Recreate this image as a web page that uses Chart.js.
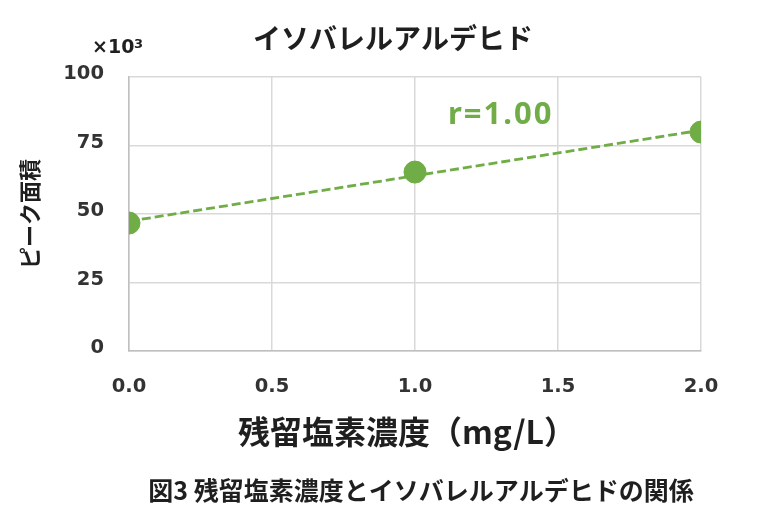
<!DOCTYPE html>
<html><head><meta charset="utf-8">
<script src="https://cdn.jsdelivr.net/npm/chart.js@4.4.1/dist/chart.umd.min.js"></script>
<style>html,body{margin:0;padding:0;background:#fff}#w{width:763px;height:521px;position:relative}</style>
</head><body><div id="w"><canvas id="c" width="763" height="521"></canvas></div>
<script>
const chlorine = [0.0, 1.0, 2.0];
const peakArea = [46.7, 65.3, 79.9];
const xTicks = [0, 0.5, 1.0, 1.5, 2.0];
const yTicks = [0, 25, 50, 75, 100];
const chartTitle = 'イソバレルアルデヒド';
const yTitle = 'ピーク面積';
const xTitle = '残留塩素濃度（mg/L）';
const caption = '図3 残留塩素濃度とイソバレルアルデヒドの関係';
const rLabel = 'r=1.00';
const unitLabel = '×10';
const unitExp = '3';

const n = chlorine.length;
const mx = chlorine.reduce((a,b)=>a+b,0)/n, my = peakArea.reduce((a,b)=>a+b,0)/n;
let sxy=0,sxx=0; for(let i=0;i<n;i++){sxy+=(chlorine[i]-mx)*(peakArea[i]-my);sxx+=(chlorine[i]-mx)**2;}
const slope=sxy/sxx, icpt=my-slope*mx;
const trend=[{x:0,y:icpt},{x:2,y:icpt+slope*2}];

const G='#70ad47';
const FONT='"Noto Sans CJK JP","Noto Sans",sans-serif';
const NUM='"DejaVu Sans",sans-serif';
const textPlugin={id:'texts',afterDraw(ch){
  const c=ch.ctx, xs=ch.scales.x, ys=ch.scales.y; c.save();
  c.fillStyle='#1f1f1f'; c.textAlign='center'; c.textBaseline='middle';
  c.font='bold 28px '+FONT; c.fillText(chartTitle,393,38);
  c.font='bold 32px '+FONT; c.fillText(xTitle,407,432);
  c.font='bold 25px '+FONT; c.fillText(caption,421,490);
  c.save(); c.translate(30,214); c.rotate(-Math.PI/2); c.font='bold 22px '+FONT; c.fillText(yTitle,0,0); c.restore();
  c.textAlign='left'; c.textBaseline='alphabetic';
  c.font='bold 19px '+NUM; c.fillText(unitLabel,92,53);
  c.font='bold 13px '+NUM; c.fillText(unitExp,134,48);
  c.fillStyle=G; c.font='bold 31px "Noto Sans",sans-serif'; c.textBaseline='middle';
  try{c.letterSpacing='2px';}catch(e){}
  c.fillText(rLabel,xs.getPixelForValue(1.115),ys.getPixelForValue(86.2));
  c.restore();
}};

new Chart(document.getElementById('c'),{
  type:'scatter',
  data:{datasets:[
    {data:chlorine.map((x,i)=>({x,y:peakArea[i]})),backgroundColor:G,borderColor:G,pointRadius:11,pointHoverRadius:11,order:1},
    {type:'line',data:trend,borderColor:G,borderWidth:2.8,borderDash:[9,4],pointRadius:0,fill:false,order:2}
  ]},
  options:{responsive:false,animation:false,
    layout:{padding:{left:0,right:62,top:77,bottom:0}},
    plugins:{legend:{display:false},tooltip:{enabled:false}},
    scales:{
      x:{type:'linear',min:0,max:2,afterBuildTicks:s=>{s.ticks=xTicks.map(v=>({value:v}));},
        afterFit:s=>{s.height=170;},
        grid:{color:'#d9d9d9',lineWidth:1.5,drawTicks:false},border:{color:'#bfbfbf',width:1.5},
        ticks:{padding:24,color:'#333',font:{family:NUM,size:19.5,weight:'bold'},callback:v=>v.toFixed(1)}},
      y:{min:0,max:100,afterBuildTicks:s=>{s.ticks=yTicks.map(v=>({value:v}));},
        afterFit:s=>{s.width=129;},
        grid:{color:'#d9d9d9',lineWidth:1.5,drawTicks:false},border:{color:'#bfbfbf',width:1.5},
        ticks:{padding:25,labelOffset:-3,color:'#333',font:{family:NUM,size:19.5,weight:'bold'}}}
    }
  },
  plugins:[textPlugin]
});
</script></body></html>
